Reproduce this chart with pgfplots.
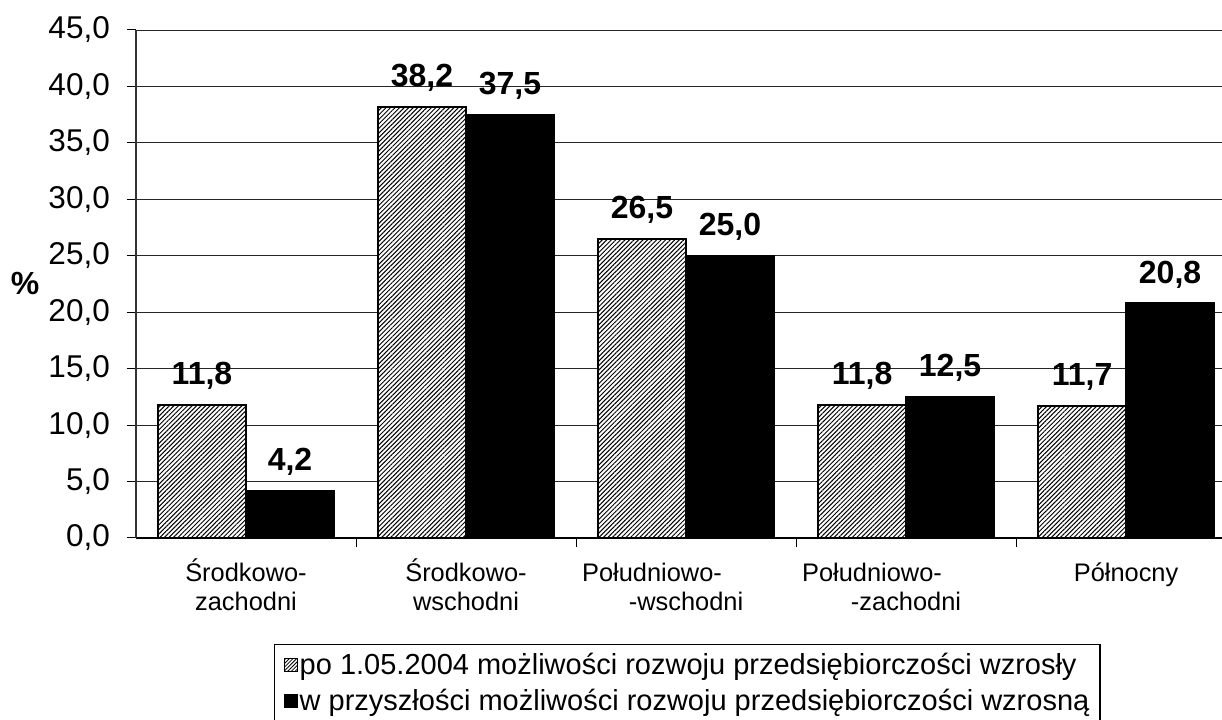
\documentclass[border=0pt]{standalone}
\usepackage{pgfplots}
\pgfplotsset{compat=1.18}
\usepackage{fontspec}
\setmainfont{Liberation Sans}
\usetikzlibrary{patterns.meta}
\pgfkeys{/pgf/number format/.cd, fixed, fixed zerofill, precision=1, use comma, assume math mode=true}

\begin{document}
\begin{tikzpicture}
\begin{axis}[
  scale only axis, width=1086pt, height=508pt,
  xmin=-0.5, xmax=4.436, ymin=0, ymax=45,
  axis x line=bottom, axis y line=left,
  x axis line style={-, line width=1.8pt, black},
  y axis line style={-, line width=1.6pt, black!80},
  ytick={0,5,...,45},
  ymajorgrids, grid style={black!85, line width=0.9pt},
  tick align=outside, major tick length=9pt, minor tick length=9pt,
  y tick style={black, line width=1pt},
  xtick={0,1,2,3,4},
  major x tick style={draw=none},
  minor xtick={0.5,1.5,2.5,3.5},
  minor x tick style={black, line width=1pt},
  xticklabels={{\vphantom{Ś}Środkowo-\\zachodni},{\vphantom{Ś}Środkowo-\\wschodni},{\vphantom{Ś}Południowo-\hspace*{68pt}\\-wschodni},{\vphantom{Ś}Południowo-\hspace*{68pt}\\-zachodni},{\vphantom{Ś}Północny}},
  xticklabel style={font=\fontsize{25.4}{29}\selectfont, align=center, anchor=north, inner sep=0pt, yshift=-12pt},
  yticklabel style={font=\fontsize{31.5}{36}\selectfont, anchor=east, inner sep=0pt, xshift=-17pt},
  ylabel={\%},
  every axis y label/.style={at={(rel axis cs:0,0.5)}, xshift=-111pt, anchor=center, font=\fontsize{32}{36}\bfseries\selectfont},
  bar width=0.4,
  nodes near coords,
  every node near coord/.append style={font=\fontsize{32}{38}\bfseries\selectfont, anchor=base, yshift=20pt, inner sep=0pt, black},
  legend cell align=left,
  legend style={at={(0.1271,-0.2087)}, anchor=north west, draw=black, line width=1.2pt,
    font=\fontsize{29}{32}\selectfont, inner xsep=9pt, inner ysep=6pt, row sep=4pt,
    nodes={inner sep=1.5pt, text height=22pt, text depth=7pt}},
]
\addplot[ybar, bar shift=-0.2, draw=black, line width=1.6pt, preaction={fill=white},
  pattern={Lines[angle=45,distance=3.2pt,line width=1.0pt]}, pattern color=black,
  every node near coord/.append style={xshift=-44pt},
  legend image code/.code={\draw[draw=black, line width=1pt, pattern={Lines[angle=45,distance=2.6pt,line width=0.8pt]}, pattern color=black] (0pt,-5pt) rectangle (13pt,8pt);}]
  coordinates {(0,11.8) (1,38.2) (2,26.5) (3,11.8) (4,11.7)};
\addlegendentry{po 1.05.2004 możliwości rozwoju przedsiębiorczości wzrosły}
\addplot[ybar, bar shift=0.2, draw=black, line width=1.6pt, fill=black,
  every node near coord/.append style={xshift=44pt},
  legend image code/.code={\draw[draw=black, fill=black] (0pt,-5pt) rectangle (13pt,8pt);}]
  coordinates {(0,4.2) (1,37.5) (2,25.0) (3,12.5) (4,20.8)};
\addlegendentry{w przyszłości możliwości rozwoju przedsiębiorczości wzrosną}
\end{axis}
\pgfresetboundingbox
\path[use as bounding box] ([xshift=-136pt,yshift=-182pt]current axis.south west) rectangle ([yshift=30pt]current axis.north east);
\end{tikzpicture}
\end{document}
